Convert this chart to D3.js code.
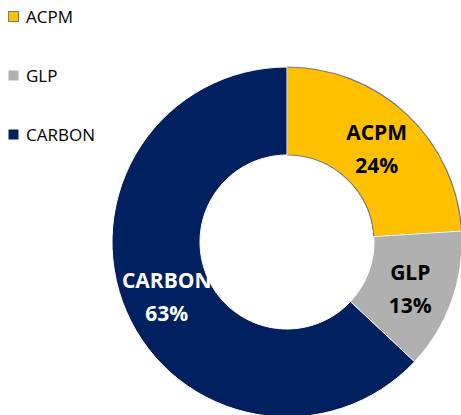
<!DOCTYPE html>
<html>
<head>
<meta charset="utf-8">
<script src="https://cdn.jsdelivr.net/npm/d3@7"></script>
<style>
    body { margin: 0; background: #fff; }
    svg { display: block; font-family: "Open Sans", Carlito, sans-serif; }
</style>
</head>
<body>
<script>
'use strict';

const categories = ['ACPM', 'GLP', 'CARBON'];
const shares = [24, 13, 63];
const colors = ['#FFC000', '#B0B0B0', '#002060'];
const label_colors = ['#000', '#000', '#fff'];

const width = 461, height = 415;
const cx = 287, cy = 242;
const outer_r = 175, inner_r = 87;

const svg = d3.select('body').append('svg')
    .attr('width', width)
    .attr('height', height);

const data = categories.map((c, i) => ({name: c, value: shares[i], color: colors[i], text: label_colors[i]}));

const pie = d3.pie().value(d => d.value).sort(null);
const arc = d3.arc().innerRadius(inner_r).outerRadius(outer_r);
const arcs = pie(data);

const chart = svg.append('g')
    .attr('transform', `translate(${cx},${cy})`);

chart.selectAll('.slice')
    .data(arcs)
    .enter().append('path')
    .attr('class', 'slice')
    .attr('d', arc)
    .attr('fill', d => d.data.color)
    .attr('stroke', d => d.data.name === 'ACPM' ? '#7a7a7a' : '#fff')
    .attr('stroke-width', d => d.data.name === 'ACPM' ? 1.2 : 1);

// labels sit at the arc centroid, two lines
const labels = chart.selectAll('.label')
    .data(arcs)
    .enter().append('text')
    .attr('class', 'label')
    .attr('transform', d => {
        const [x, y] = arc.centroid(d);
        return `translate(${x},${y})`;
    })
    .attr('text-anchor', 'middle')
    .attr('font-size', 21)
    .attr('font-weight', 'bold')
    .attr('fill', d => d.data.text);
labels.append('tspan')
    .attr('x', 0)
    .attr('dy', -6.5)
    .text(d => d.data.name);
labels.append('tspan')
    .attr('x', 0)
    .attr('dy', 33)
    .text(d => d.data.value + '%');

// hole drawn over the labels, so the long CARBON label gets cut like in the original
chart.append('circle')
    .attr('r', inner_r - 0.8)
    .attr('fill', '#fff');

const legend = svg.append('g')
    .attr('transform', 'translate(8,11)');
const items = legend.selectAll('.item')
    .data(data)
    .enter().append('g')
    .attr('class', 'item')
    .attr('transform', (d, i) => `translate(0,${i * 59})`);
items.append('rect')
    .attr('x', 0.5)
    .attr('y', 0.5)
    .attr('width', 10)
    .attr('height', 10)
    .attr('fill', d => d.color)
    .attr('stroke', d => d.name === 'ACPM' ? '#7a7a7a' : 'none');
items.append('text')
    .attr('x', 18)
    .attr('y', 12)
    .attr('font-size', 17)
    .attr('fill', '#000')
    .text(d => d.name);
</script>
</body>
</html>
